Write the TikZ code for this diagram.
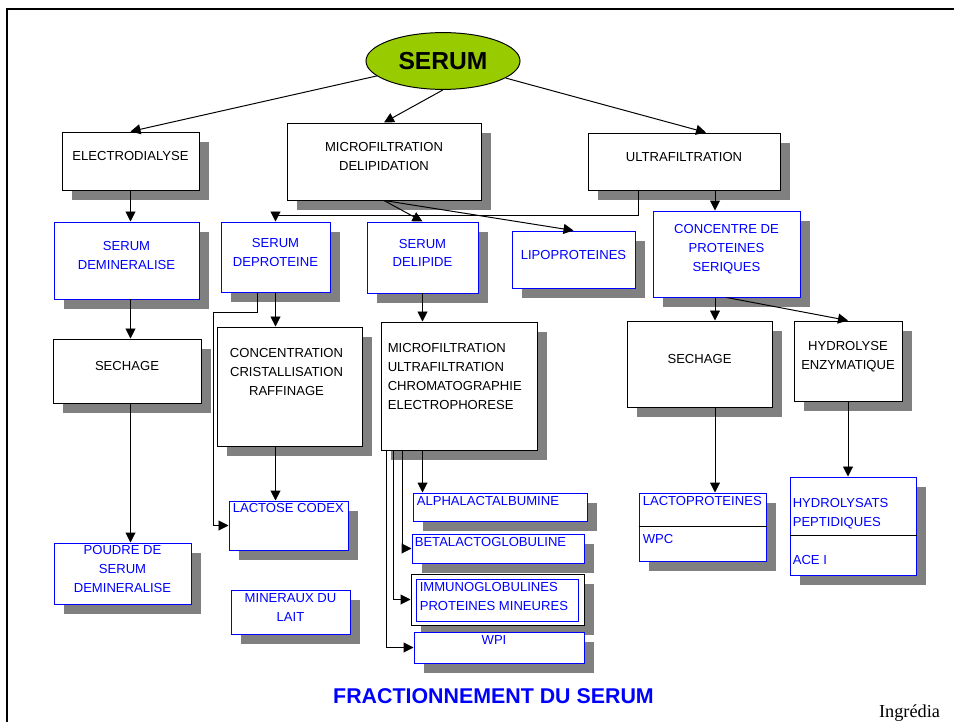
\documentclass[tikz,border=0pt]{standalone}
\usepackage{fontspec}
\setmainfont{Liberation Sans}
\newfontfamily\ingfont{Liberation Serif}
\usetikzlibrary{arrows.meta,shapes.geometric,shadows,fit,calc}
\definecolor{serumgreen}{RGB}{153,204,0}
\definecolor{serumblue}{RGB}{0,0,255}
\definecolor{shadowgray}{RGB}{128,128,128}
\newcommand{\boxfont}{\fontsize{9.3}{13.5}\selectfont}

\begin{document}
\begin{tikzpicture}[x=0.025cm, y=-0.025cm,
    box/.style={draw, fill=white, line width=0.7pt, inner sep=0pt, align=center, font=\boxfont,
        general shadow={fill=shadowgray, shadow xshift=0.25cm, shadow yshift=-0.25cm}},
    bbox/.style={box, draw=serumblue, text=serumblue},
    txt/.style={inner sep=0pt, font=\boxfont},
    btxt/.style={txt, text=serumblue, align=left, anchor=north west},
    arr/.style={line width=0.7pt, -{Triangle[length=0.25cm, width=0.25cm]}}]
    \useasboundingbox (0,0) rectangle (954,722);
    \draw[line width=2pt] (7,722) -- (7,9) -- (954,9);
    \node[ellipse, draw, fill=serumgreen, line width=0.7pt, minimum width=3.85cm, minimum height=1.42cm, inner sep=0pt,
        font=\fontsize{17.5}{20}\selectfont\bfseries] (serum) at (443,61) {SERUM};
    \node[box, fit={(62,132) (199,190)}]  (elec)   {ELECTRODIALYSE};
    \node[box, fit={(287,123) (481,200)}] (micro)  {MICROFILTRATION\\DELIPIDATION};
    \node[box, fit={(588,133) (780,190)}] (ultra)  {ULTRAFILTRATION};
    \node[bbox, fit={(54,222) (199,299)}]  (demin)  {SERUM\\DEMINERALISE};
    \node[bbox, fit={(221,222) (330,292)}] (deprot) {SERUM\\DEPROTEINE};
    \node[bbox, fit={(367,222) (478,293)}] (delip)  {SERUM\\DELIPIDE};
    \node[bbox, fit={(512,231) (635,288)}] (lipo)   {LIPOPROTEINES};
    \node[bbox, fit={(653,211) (800,297)}] (conc)   {CONCENTRE DE\\PROTEINES\\SERIQUES};
    \node[box, fit={(53,339) (201,403)}]  (sechl)  {SECHAGE};
    \node[box, fit={(217,327) (362,446)}] (conccr) {};
    \node[txt, align=center, anchor=north] at ([shift={(-3,22)}]conccr.north) {CONCENTRATION\\CRISTALLISATION\\RAFFINAGE};
    \node[box, fit={(381,322) (537,450)}] (mf) {};
    \node[txt, align=left, anchor=north west] at ([shift={(7,22)}]mf.north west) {MICROFILTRATION\\ULTRAFILTRATION\\CHROMATOGRAPHIE\\ELECTROPHORESE};
    \node[box, fit={(627,321) (772,407)}] (sechr)  {SECHAGE};
    \node[box, fit={(794,321) (902,401)}] (hydro)  {HYDROLYSE\\ENZYMATIQUE};
    \node[bbox, fit={(54,543) (191,604)}]  (poudre) {POUDRE DE\\SERUM\\DEMINERALISE};
    \node[bbox, fit={(229,501) (348,550)}] (lact)   {};
    \node[btxt] at ([shift={(4,3)}]lact.north west) {LACTOSE CODEX};
    \node[bbox, fit={(231,590) (350,634)}] (miner)  {MINERAUX DU\\LAIT};
    \node[bbox, fit={(413,493) (587,521)}] (alpha)  {};
    \node[btxt] at ([shift={(4,4)}]alpha.north west) {ALPHALACTALBUMINE};
    \node[bbox, fit={(412,534) (584,563)}] (beta)   {};
    \node[btxt] at ([shift={(3,4)}]beta.north west) {BETALACTOGLOBULINE};
    \node[box, fit={(411,574) (584,625)}]  (immo)   {};
    \node[draw=serumblue, line width=0.7pt, inner sep=0pt, fit={(416,579) (578,621)}] (immi) {};
    \node[btxt] at ([shift={(4,4)}]immi.north west) {IMMUNOGLOBULINES\\PROTEINES MINEURES};
    \node[bbox, fit={(414,632) (584,663)}] (wpi)    {};
    \node[txt, text=serumblue, anchor=north] at ([shift={(-5,4)}]wpi.north) {WPI};
    \node[bbox, fit={(639,493) (766,561)}] (lacto)  {};
    \draw[line width=1pt] ([shift={(0,34)}]lacto.north west) -- ([shift={(0,34)}]lacto.north east);
    \node[btxt] at ([shift={(4,4)}]lacto.north west) {LACTOPROTEINES};
    \node[btxt] at ([shift={(4,42)}]lacto.north west) {WPC};
    \node[bbox, fit={(790,477) (916,575)}] (hylys)  {};
    \draw[line width=1pt] ([shift={(0,59)}]hylys.north west) -- ([shift={(0,59)}]hylys.north east);
    \node[btxt] at ([shift={(3,22)}]hylys.north west) {HYDROLYSATS\\PEPTIDIQUES};
    \node[btxt] at ([shift={(3,79)}]hylys.north west) {ACE I};
    \node[font=\fontsize{15.2}{18}\selectfont\bfseries, text=serumblue, anchor=base, inner sep=0pt] (title) at (493.5,703) {FRACTIONNEMENT DU SERUM};
    \node[font=\ingfont\fontsize{13}{15}\selectfont, anchor=base, inner sep=0pt] (src) at (909.5,717) {Ingrédia};
    \coordinate (xr) at (715,0);
    \coordinate (byp) at (213,312);
    \draw[arr] (serum) -- (elec.north);
    \draw[arr] (serum.south) -- (micro.north);
    \draw[arr] (serum) -- ([shift={(22,0)}]ultra.north);
    \draw[arr] (elec.south) -- (elec.south |- demin.north);
    \draw[arr] (elec.south |- demin.south) -- (elec.south |- sechl.north);
    \draw[arr] (elec.south |- sechl.south) -- (elec.south |- poudre.north);
    \draw[arr] ([shift={(-46,0)}]ultra.south) -- ++(0,25) -| (deprot.north);
    \draw[arr] (micro.south) -- (delip.north);
    \draw[arr] (micro.south) -- (lipo.north);
    \draw[arr] (xr |- ultra.south) -- (xr |- conc.north);
    \draw[arr] (xr |- conc.south) -- (xr |- sechr.north);
    \draw[arr] (xr |- sechr.south) -- (xr |- lacto.north);
    \draw[arr] (conc.south) -- (hydro.north);
    \draw[arr] (hydro.south) -- (hydro.south |- hylys.north);
    \draw[arr] (deprot.south) -- (deprot.south |- conccr.north);
    \draw[arr] (deprot.south |- conccr.south) -- (deprot.south |- lact.north);
    \draw[arr] ([shift={(-18.5,0)}]deprot.south) |- (byp) |- (lact.west);
    \draw[arr] (delip.south) -- (delip.south |- mf.north);
    \draw[arr] ([shift={(42,0)}]mf.south west) coordinate (fa) -- (fa |- alpha.north);
    \foreach \dx/\tgt in {22/beta, 13/immo, 6/wpi}
        \draw[arr] ([shift={(\dx,0)}]mf.south west) |- (\tgt.west);
\end{tikzpicture}
\end{document}
